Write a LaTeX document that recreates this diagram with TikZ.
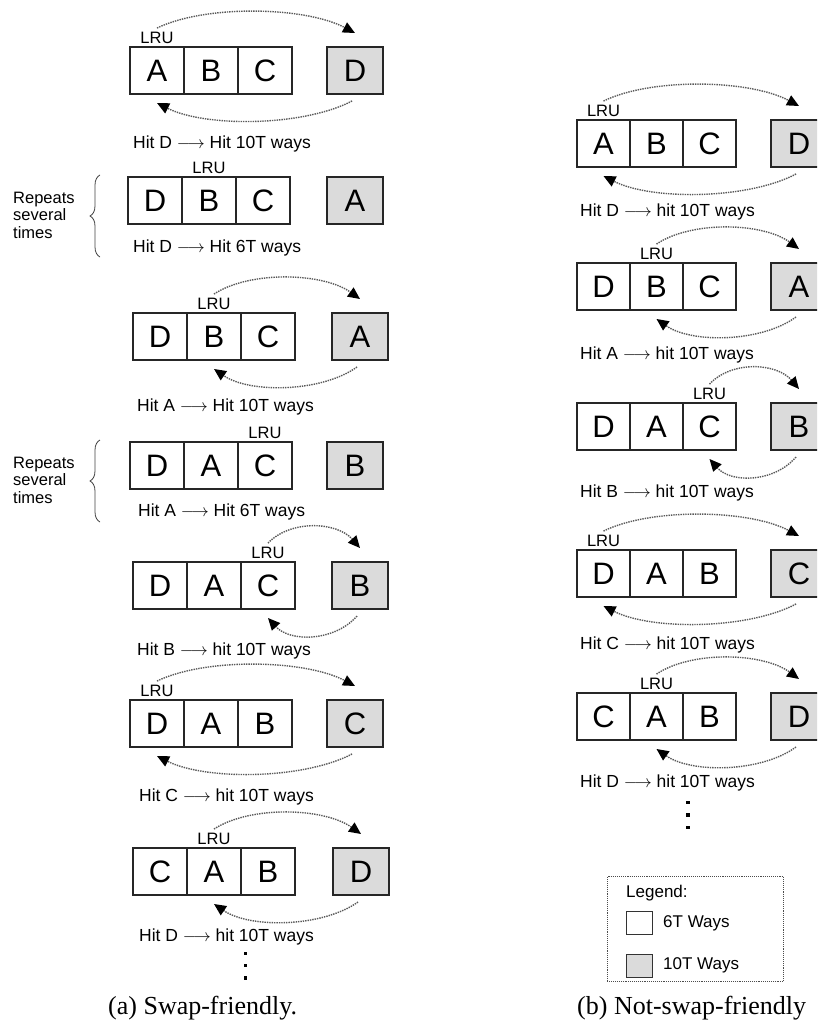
\documentclass[tikz,border=0pt]{standalone}
\usepackage{fontspec}
\setmainfont{Liberation Sans}
\newfontfamily\capfont{Liberation Serif}
\usetikzlibrary{arrows.meta,decorations.pathreplacing,calc}

% one row of the cache: three 6T cells and the 10T way
% #1 prefix, #2 left x, #3 top y, #4 cell width, #5-#7 cell letters, #8 x of the 10T way, #9 its letter
\newcommand\wayrow[9]{%
  \node[cell, minimum width=#4pt] (#1a) at (#2,-#3) {#5};
  \node[cell, minimum width=#4pt] (#1b) at (#1a.north east) {#6};
  \node[cell, minimum width=#4pt] (#1c) at (#1b.north east) {#7};
  \node[way10] (#1g) at (#8,-#3) {#9};
}
% the two swap arrows between the LRU cell (#1#2) and the 10T way (#1g)
\newcommand\swappair[2]{%
  \coordinate (#1u0) at ([yshift=4pt]#1l.north);
  \coordinate (#1u1) at ([yshift=14pt]#1g.north);
  \coordinate (#1d0) at ([shift={(-3pt,-7pt)}]#1g.south);
  \coordinate (#1d1) at ([yshift=-9pt]#1#2.south);
  \draw[swaparc] (#1u0) .. controls ($(#1u0)!0.25!(#1u1)+(0,25)$) and ($(#1u0)!0.75!(#1u1)+(0,25)$) .. (#1u1);
  \draw[swaparc] (#1d0) .. controls ($(#1d0)!0.25!(#1d1)+(0,-25)$) and ($(#1d0)!0.75!(#1d1)+(0,-25)$) .. (#1d1);
}
\newcommand\hitarrow{$\longrightarrow$}

\begin{document}
\begin{tikzpicture}[x=1pt,y=1pt,
  cell/.style={draw=black!85, line width=1.2pt, minimum width=54pt, minimum height=47pt,
    inner sep=0pt, outer sep=0pt, anchor=north west, font=\fontsize{31}{31}\selectfont},
  way10/.style={cell, fill=black!14, minimum width=56pt},
  lru/.style={font=\fontsize{16.5}{16.5}\selectfont, inner sep=0pt},
  hit/.style={font=\fontsize{17.5}{19}\selectfont, anchor=west, inner sep=0pt},
  swaparc/.style={densely dotted, line width=1.4pt, draw=black!65,
    -{Triangle[length=12pt,width=11pt,color=black,fill=black]}},
  note/.style={font=\fontsize{16.5}{17.5}\selectfont, align=left, anchor=west, inner sep=0pt},
  legtext/.style={font=\fontsize{17}{17}\selectfont, anchor=west, inner sep=0pt},
  repbrace/.style={decorate, decoration={brace, amplitude=10pt}, line width=0.8pt, draw=black!75},
  captext/.style={font=\capfont\fontsize{26}{28}\selectfont, anchor=west, inner sep=0pt},
  legbox/.style={draw=black!80, line width=1pt, minimum width=26pt, minimum height=23pt,
    inner sep=0pt, anchor=north west},
  dotmark/.style={fill=black}
]
\useasboundingbox (0,0) rectangle (817,-1033);
\clip (0,0) rectangle (817,-1033);

% ---------------- (a) swap-friendly ----------------
\wayrow{r1}{130}{47}{54}{A}{B}{C}{327}{D}
\wayrow{r2}{128}{177}{54}{D}{B}{C}{327}{A}
\wayrow{r3}{133}{313}{54}{D}{B}{C}{332}{A}
\wayrow{r4}{130}{442}{54}{D}{A}{C}{327}{B}
\wayrow{r5}{133}{562}{54}{D}{A}{C}{332}{B}
\wayrow{r6}{130}{700}{54}{D}{A}{B}{327}{C}
\wayrow{r7}{133}{848}{54}{C}{A}{B}{333}{D}

\node[lru] (r1l) at ([yshift=9pt]r1a.north) {LRU};
\node[lru] (r2l) at ([yshift=9pt]r2b.north) {LRU};
\node[lru] (r3l) at ([yshift=9pt]r3b.north) {LRU};
\node[lru] (r4l) at ([yshift=9pt]r4c.north) {LRU};
\node[lru] (r5l) at ([yshift=9pt]r5c.north) {LRU};
\node[lru] (r6l) at ([yshift=9pt]r6a.north) {LRU};
\node[lru] (r7l) at ([yshift=9pt]r7b.north) {LRU};

\swappair{r1}{a}
\swappair{r3}{b}
\swappair{r5}{c}
\swappair{r6}{a}
\swappair{r7}{b}

\node[hit] (r1h) at (133,-144) {Hit D \hitarrow{} Hit 10T ways};
\node[hit] (r2h) at (133,-248) {Hit D \hitarrow{} Hit 6T ways};
\node[hit] (r3h) at (137,-407) {Hit A \hitarrow{} Hit 10T ways};
\node[hit] (r4h) at (138,-512) {Hit A \hitarrow{} Hit 6T ways};
\node[hit] (r5h) at (137,-651) {Hit B \hitarrow{} hit 10T ways};
\node[hit] (r6h) at (139,-797) {Hit C \hitarrow{} hit 10T ways};
\node[hit] (r7h) at (139,-937) {Hit D \hitarrow{} hit 10T ways};

% repeated hits in the 6T ways
\node[note] (rep1) at (13,-215) {Repeats\\several\\times};
\draw[repbrace] (100,-257) -- (100,-175);
\node[note] (rep2) at (13,-480) {Repeats\\several\\times};
\draw[repbrace] (100,-522) -- (100,-440);

\fill[dotmark] (243.5,-951.5) rectangle ++(3.5,-3.5);
\fill[dotmark] (243.5,-963.5) rectangle ++(3.5,-3.5);
\fill[dotmark] (243.5,-976) rectangle ++(3.5,-3.5);

% ---------------- (b) not-swap-friendly ----------------
\wayrow{s1}{577}{120}{53}{A}{B}{C}{771}{D}
\wayrow{s2}{577}{263}{53}{D}{B}{C}{771}{A}
\wayrow{s3}{577}{403}{53}{D}{A}{C}{771}{B}
\wayrow{s4}{577}{550}{53}{D}{A}{B}{771}{C}
\wayrow{s5}{577}{693}{53}{C}{A}{B}{771}{D}

\node[lru] (s1l) at ([yshift=9pt]s1a.north) {LRU};
\node[lru] (s2l) at ([yshift=9pt]s2b.north) {LRU};
\node[lru] (s3l) at ([yshift=9pt]s3c.north) {LRU};
\node[lru] (s4l) at ([yshift=9pt]s4a.north) {LRU};
\node[lru] (s5l) at ([yshift=9pt]s5b.north) {LRU};

\swappair{s1}{a}
\swappair{s2}{b}
\swappair{s3}{c}
\swappair{s4}{a}
\swappair{s5}{b}

\node[hit] (s1h) at (580,-212) {Hit D \hitarrow{} hit 10T ways};
\node[hit] (s2h) at (580,-355) {Hit A \hitarrow{} hit 10T ways};
\node[hit] (s3h) at (580,-493) {Hit B \hitarrow{} hit 10T ways};
\node[hit] (s4h) at (580,-645) {Hit C \hitarrow{} hit 10T ways};
\node[hit] (s5h) at (580,-783) {Hit D \hitarrow{} hit 10T ways};

\fill[dotmark] (686,-800.5) rectangle ++(3.5,-3.5);
\fill[dotmark] (686,-813) rectangle ++(3.5,-3.5);
\fill[dotmark] (686,-825.5) rectangle ++(3.5,-3.5);

% legend
\node[draw=black!70, densely dotted, line width=0.9pt, minimum width=176pt, minimum height=105pt,
  inner sep=0pt, anchor=north west] (legend) at (607,-876) {};
\node[legtext] (legtitle) at (626,-893) {Legend:};
\node[legbox, fill=white] (leg6) at (626,-911) {};
\node[legtext] (leg6t) at (663,-923) {6T Ways};
\node[legbox, fill=black!14] (leg10) at (626,-954) {};
\node[legtext] (leg10t) at (663,-965) {10T Ways};

% captions
\node[captext] (capa) at (108,-1008) {(a) Swap-friendly.};
\node[captext] (capb) at (577,-1008) {(b) Not-swap-friendly};
\end{tikzpicture}
\end{document}
